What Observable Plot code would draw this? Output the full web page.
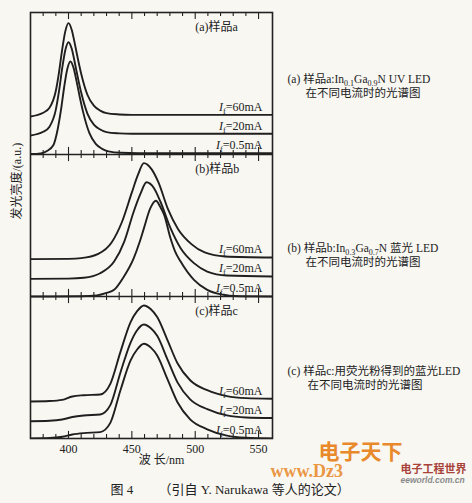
<!DOCTYPE html>
<html><head><meta charset="utf-8">
<script src="https://cdn.jsdelivr.net/npm/d3@7"></script>
<script src="https://cdn.jsdelivr.net/npm/@observablehq/plot@0.6"></script>
<style>
html,body{margin:0;padding:0;background:#f8f7f2;}
#chart svg{display:block;}
</style></head><body><div id="chart"></div>
<script>
// ---------- data ----------
const panels = ["a", "b", "c"];
const currents = ["60mA", "20mA", "0.5mA"];
const panelTitles = ["(a)样品a", "(b)样品b", "(c)样品c"];
const captionLine1 = [
  "(a) 样品a:In_{0.1}Ga_{0.9}N UV LED",
  "(b) 样品b:In_{0.3}Ga_{0.7}N 蓝光 LED",
  "(c) 样品c:用荧光粉得到的蓝光LED"
];
const captionLine2 = ["在不同电流时的光谱图", "在不同电流时的光谱图", "在不同电流时的光谱图"];
const xTickLabels = [400, 450, 500, 550];
const minorTicks = [380, 390, 400, 410, 420, 430, 440, 450, 460, 470, 480, 490, 500, 510, 520, 530, 540, 550];
const xLabel = "波 长/nm";
const yLabel = "发光亮度/(a.u.)";
const figureNo = "图 4";
const figureNote = "（引自 Y. Narukawa 等人的论文）";
const watermark = ["电子天下", "www.Dz3", "电子工程世界", "eeworld.com.cn"];

// panel a (sample a), intensities in panel units (0-100)
const aWl05 = [370, 378, 383, 388, 391.5, 394, 396.5, 399, 401.5, 404, 406.5, 409, 411.5, 416.5, 421.5, 426.5, 431.5, 441.5, 455, 561];
const aVal05 = [0.3, 0.8, 2.5, 6.5, 18, 31, 47, 60, 65.5, 61, 51, 40, 30, 15, 7.5, 4, 2.2, 1.2, 1, 1];
const aWl = [370, 380, 385, 390, 392.5, 395, 397.5, 400, 402.5, 405, 407.5, 410, 415, 420, 425, 430, 440, 450, 561];
const aVal20 = [13.4, 16, 19.6, 31.6, 44.6, 60.6, 73.6, 79.1, 74.6, 64.6, 53.6, 43.6, 28.6, 21, 17.6, 15.8, 14.9, 14.6, 14.6];
const aVal60 = [26.8, 29.4, 32.9, 44.9, 57.9, 73.9, 86.9, 92.5, 87.9, 77.9, 66.9, 56.9, 41.9, 34.4, 30.9, 29.1, 28.2, 27.9, 27.9];

// panel b (sample b)
const bWl05 = [370, 410, 422.5, 430, 436, 443, 451.5, 456, 459.5, 464.5, 469, 472.5, 475.5, 480.5, 484, 488.5, 499, 509.5, 522.5, 530.5, 561];
const bVal05 = [0, 0.2, 0.8, 2.5, 4.7, 13, 27, 38, 48, 62, 67.4, 63, 57.5, 41, 32, 24.6, 11.7, 4.7, 1.2, 0.3, 0];
const bWl20 = [370, 400, 412, 425, 436, 444, 451.5, 457, 461.5, 467.5, 472.5, 480.5, 488.5, 499, 509.5, 525, 561];
const bVal20 = [12.4, 12.6, 13.2, 16.4, 24.6, 38.7, 59.9, 72.8, 80.5, 76.3, 66.9, 48.1, 34, 23.5, 17.6, 14.8, 14.1];
const bWl60 = [370, 400, 410, 423.5, 434, 442, 450, 455, 459.5, 465.5, 471, 478.5, 486.5, 497, 507.5, 523.5, 561];
const bVal60 = [26.3, 26.5, 27.0, 30.0, 38.0, 52.1, 73.3, 86.2, 93.9, 89.7, 80.3, 61.5, 47.4, 36.9, 31.0, 28.2, 27.5];

// panel c (sample c, phosphor)
const cWl = [370, 385, 395, 403, 412, 425, 433, 441, 449, 454, 459.5, 465, 470, 478, 486, 496, 509.5, 525, 540, 561];
const cVal05 = [0, 0.3, 1.2, 2.8, 3.8, 4.5, 11, 34, 55, 62.5, 66.7, 64, 58.5, 42, 25.5, 13.5, 6.5, 2, 0.5, 0];
const cVal20 = [12.2, 12.5, 13.4, 15.1, 16.2, 16.9, 23.5, 46.5, 67.6, 76.1, 80.3, 77.6, 72.3, 55.9, 39.5, 27.6, 20.7, 16.3, 14.8, 14.4];
const cVal60 = [26.1, 26.4, 27.2, 29.6, 30.5, 31.0, 38.5, 61, 82, 89.5, 93.7, 91, 85.5, 69.5, 53, 41, 34, 29.8, 28.4, 28];

// ---------- build tables ----------
const panelBase = {a: 200, b: 100, c: 0};
const curves = [
  {panel: "a", current: "60mA", wl: aWl, val: aVal60},
  {panel: "a", current: "20mA", wl: aWl, val: aVal20},
  {panel: "a", current: "0.5mA", wl: aWl05, val: aVal05},
  {panel: "b", current: "60mA", wl: bWl60, val: bVal60},
  {panel: "b", current: "20mA", wl: bWl20, val: bVal20},
  {panel: "b", current: "0.5mA", wl: bWl05, val: bVal05},
  {panel: "c", current: "60mA", wl: cWl, val: cVal60},
  {panel: "c", current: "20mA", wl: cWl, val: cVal20},
  {panel: "c", current: "0.5mA", wl: cWl, val: cVal05}
];
const rows = curves.flatMap(c => c.wl.map((w, i) => ({
  key: c.panel + c.current, wl: w, y: c.val[i] + panelBase[c.panel]
})));
const labelRows = curves.map(c => ({
  wl: c.wl[c.wl.length - 1], y: c.val[c.val.length - 1] + panelBase[c.panel],
  text: "*I*_{f}=" + c.current
}));
const boundaries = [0, 100, 200, 300];
const tickRows = boundaries.flatMap(b => minorTicks.map(x => ({x, b, major: xTickLabels.includes(x)})));
const titleRows = panels.map((p, i) => ({text: panelTitles[i], y: panelBase[p] + 100}));

const ink = "#222";
const serif = "'Liberation Serif','Noto Sans CJK SC',serif";
const captionTop = [74, 243, 366];

const capMarks = [];
captionLine1.forEach((t, i) => {
  capMarks.push(Plot.text([t], {frameAnchor: "top-right", dx: 15, dy: captionTop[i] - 12, textAnchor: "start", fontSize: 11.5, fill: ink}));
  capMarks.push(Plot.text([captionLine2[i]], {frameAnchor: "top-right", dx: i === 2 ? 35 : 33, dy: captionTop[i] + 14 - 12, textAnchor: "start", fontSize: 11.5, fill: ink}));
});

const chart = Plot.plot({
  width: 472, height: 503,
  marginLeft: 30, marginRight: 200, marginTop: 12, marginBottom: 65,
  style: {background: "#f8f7f2", fontFamily: serif, fontSize: "12px", color: ink},
  x: {domain: [370, 561]},
  y: {domain: [0, 300], axis: null},
  marks: [
    Plot.line(rows, {x: "wl", y: "y", z: "key", curve: "monotone-x", stroke: "#1f1f1f", strokeWidth: 1.9, clip: true}),
    Plot.ruleY([100, 200], {stroke: ink, strokeWidth: 1.6}),
    Plot.frame({stroke: ink, strokeWidth: 1.6}),
    Plot.ruleX(tickRows, {x: "x", y1: d => d.b - (d.major ? 5 : 2.8), y2: d => d.b + (d.major ? 5 : 2.8), stroke: ink, strokeWidth: 1.1, clip: true}),
    Plot.axisX(xTickLabels, {tickSize: 0, tickPadding: 6, label: null, fontSize: 12, fill: ink}),
    Plot.text(labelRows, {x: "wl", y: "y", text: "text", dx: -10, dy: -8, textAnchor: "end", fontSize: 12, fill: ink}),
    Plot.text(titleRows, {x: () => 500, y: "y", text: "text", dy: 15, textAnchor: "start", fontSize: 12, fill: ink}),
    Plot.text([yLabel], {frameAnchor: "left", dx: -13, dy: -6, rotate: -90, fontSize: 12, fill: ink}),
    Plot.text([xLabel], {frameAnchor: "bottom", dx: 10, dy: 25, textAnchor: "middle", fontSize: 12, fill: ink}),
    Plot.text([figureNo], {frameAnchor: "bottom-left", dx: 80, dy: 55, textAnchor: "start", fontSize: 13, fill: ink}),
    Plot.text([figureNote], {frameAnchor: "bottom-left", dx: 128, dy: 55, textAnchor: "start", fontSize: 13, fill: ink}),
    ...capMarks,
    Plot.text([watermark[0]], {frameAnchor: "bottom-right", dx: 88, dy: 20, textAnchor: "middle", fontSize: 21, fontWeight: "bold", fill: "#e8892b", fontFamily: "'Noto Sans CJK SC',sans-serif"}),
    Plot.text([watermark[1]], {frameAnchor: "bottom-right", dx: -2, dy: 38, textAnchor: "start", fontSize: 18, fontWeight: "bold", fill: "#e8892b", fillOpacity: 0.9}),
    Plot.text([watermark[2]], {frameAnchor: "bottom-right", dx: 128, dy: 34, textAnchor: "start", fontSize: 11, fontWeight: "bold", fill: "#a8433a", fontFamily: "'Noto Sans CJK SC',sans-serif"}),
    Plot.text([watermark[3]], {frameAnchor: "bottom-right", dx: 128, dy: 44, textAnchor: "start", fontSize: 8.5, fontWeight: "bold", fontStyle: "italic", fill: "#8a8a8a", fontFamily: "'Liberation Sans',sans-serif"})
  ]
});

// rich text: *italic* and _{subscript}
function richify(root) {
  const NS = "http://www.w3.org/2000/svg";
  root.querySelectorAll("text").forEach(t => {
    const s = t.textContent;
    if (t.children.length || !/[*_]/.test(s)) return;
    t.textContent = "";
    const re = /(\*[^*]+\*|_\{[^}]+\})/g;
    let last = 0, m, pending = 0;
    const add = (str, attrs) => {
      const ts = document.createElementNS(NS, "tspan");
      ts.textContent = str;
      for (const k in attrs) ts.setAttribute(k, attrs[k]);
      t.appendChild(ts);
    };
    const normal = (str, extra = {}) => {
      const a = {...extra};
      if (pending) a.dy = -pending;
      pending = 0;
      add(str, a);
    };
    while ((m = re.exec(s))) {
      if (m.index > last) normal(s.slice(last, m.index));
      const tok = m[0];
      if (tok[0] === "*") normal(tok.slice(1, -1), {"font-style": "italic"});
      else {
        const a = {"font-size": "70%", dy: 3 - pending};
        add(tok.slice(2, -1), a);
        pending = 3;
      }
      last = m.index + tok.length;
    }
    if (last < s.length) normal(s.slice(last));
  });
}
richify(chart);
document.getElementById("chart").appendChild(chart);
</script>
</body></html>
